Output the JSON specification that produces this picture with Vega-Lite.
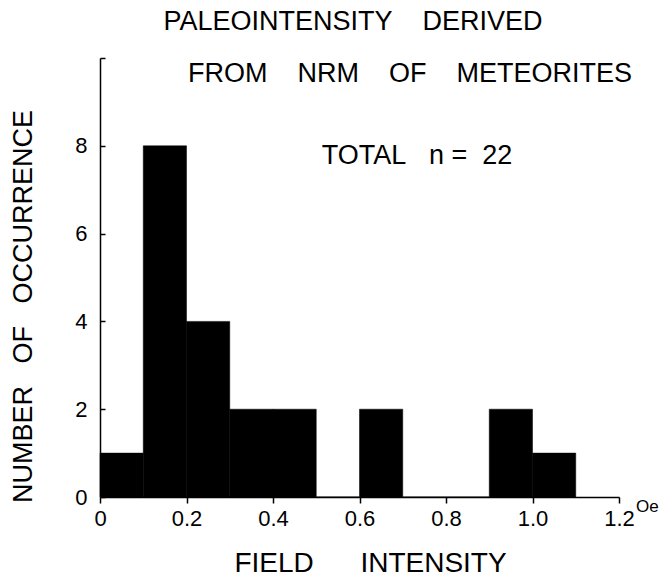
{
  "$schema": "https://vega.github.io/schema/vega-lite/v6.json",
  "width": 519,
  "height": 439,
  "autosize": {"type": "none"},
  "padding": {"left": 100, "top": 58, "right": 47, "bottom": 80},
  "background": "white",
  "config": {
    "view": {"stroke": null},
    "axis": {
      "grid": false,
      "domainColor": "black",
      "tickColor": "black",
      "labelColor": "black",
      "titleColor": "black",
      "labelFont": "Liberation Sans",
      "titleFont": "Liberation Sans",
      "labelFontSize": 22,
      "titleFontSize": 27,
      "titleFontWeight": "normal",
      "domainWidth": 1.5,
      "tickWidth": 1.5
    }
  },
  "datasets": {
    "bins": [
      {"lo": 0.0, "hi": 0.1, "count": 1},
      {"lo": 0.1, "hi": 0.2, "count": 8},
      {"lo": 0.2, "hi": 0.3, "count": 4},
      {"lo": 0.3, "hi": 0.4, "count": 2},
      {"lo": 0.4, "hi": 0.5, "count": 2},
      {"lo": 0.5, "hi": 0.6, "count": 0},
      {"lo": 0.6, "hi": 0.7, "count": 2},
      {"lo": 0.7, "hi": 0.8, "count": 0},
      {"lo": 0.8, "hi": 0.9, "count": 0},
      {"lo": 0.9, "hi": 1.0, "count": 2},
      {"lo": 1.0, "hi": 1.1, "count": 1}
    ],
    "notes": [
      {"x": 0.585, "y": 10.82, "label": "PALEOINTENSITY\u00a0\u00a0\u00a0\u00a0DERIVED", "size": 27},
      {"x": 0.717, "y": 9.64, "label": "FROM\u00a0\u00a0\u00a0\u00a0NRM\u00a0\u00a0\u00a0\u00a0OF\u00a0\u00a0\u00a0\u00a0METEORITES", "size": 27},
      {"x": 0.733, "y": 7.77, "label": "TOTAL\u00a0\u00a0\u00a0n\u00a0=\u00a0\u00a022", "size": 27}
    ],
    "unit": [
      {"x": 1.2, "y": 0, "label": "Oe"}
    ]
  },
  "layer": [
    {
      "data": {"name": "bins"},
      "mark": {"type": "bar", "color": "black", "stroke": "black", "strokeWidth": 0.5},
      "encoding": {
        "x": {
          "field": "lo",
          "type": "quantitative",
          "scale": {"domain": [0, 1.2], "nice": false, "zero": false},
          "axis": {
            "values": [0, 0.2, 0.4, 0.6, 0.8, 1.0, 1.2],
            "labelExpr": "datum.value == 0 ? '0' : format(datum.value, '.1f')",
            "tickSize": 6,
            "labelPadding": 5,
            "labelFlush": false,
            "labelOverlap": false,
            "title": "FIELD\u00a0\u00a0\u00a0\u00a0\u00a0\u00a0INTENSITY",
            "titleFontSize": 28,
            "titleX": 270,
            "titleY": 66,
            "titleAlign": "center",
            "titleBaseline": "middle"
          }
        },
        "x2": {"field": "hi"},
        "y": {
          "field": "count",
          "type": "quantitative",
          "scale": {"domain": [0, 10], "nice": false},
          "axis": {
            "values": [0, 2, 4, 6, 8, 10],
            "labelExpr": "datum.value == 10 ? '' : datum.label",
            "tickSize": -5,
            "labelPadding": 18,
            "labelFlush": false,
            "labelOverlap": false,
            "title": "NUMBER\u00a0\u00a0\u00a0OF\u00a0\u00a0\u00a0OCCURRENCE",
            "titleAngle": -90,
            "titleX": -77,
            "titleY": 248,
            "titleAlign": "center",
            "titleBaseline": "middle"
          }
        },
        "y2": {"datum": 0}
      }
    },
    {
      "data": {"name": "notes"},
      "mark": {"type": "text", "font": "Liberation Sans", "color": "black", "align": "center", "baseline": "middle", "clip": false},
      "encoding": {
        "x": {"field": "x", "type": "quantitative"},
        "y": {"field": "y", "type": "quantitative"},
        "text": {"field": "label"},
        "size": {"field": "size", "type": "quantitative", "scale": null}
      }
    },
    {
      "data": {"name": "unit"},
      "mark": {"type": "text", "font": "Liberation Sans", "fontSize": 17, "color": "black", "align": "left", "baseline": "middle", "dx": 17, "dy": 10},
      "encoding": {
        "x": {"field": "x", "type": "quantitative"},
        "y": {"field": "y", "type": "quantitative"},
        "text": {"field": "label"}
      }
    }
  ]
}
